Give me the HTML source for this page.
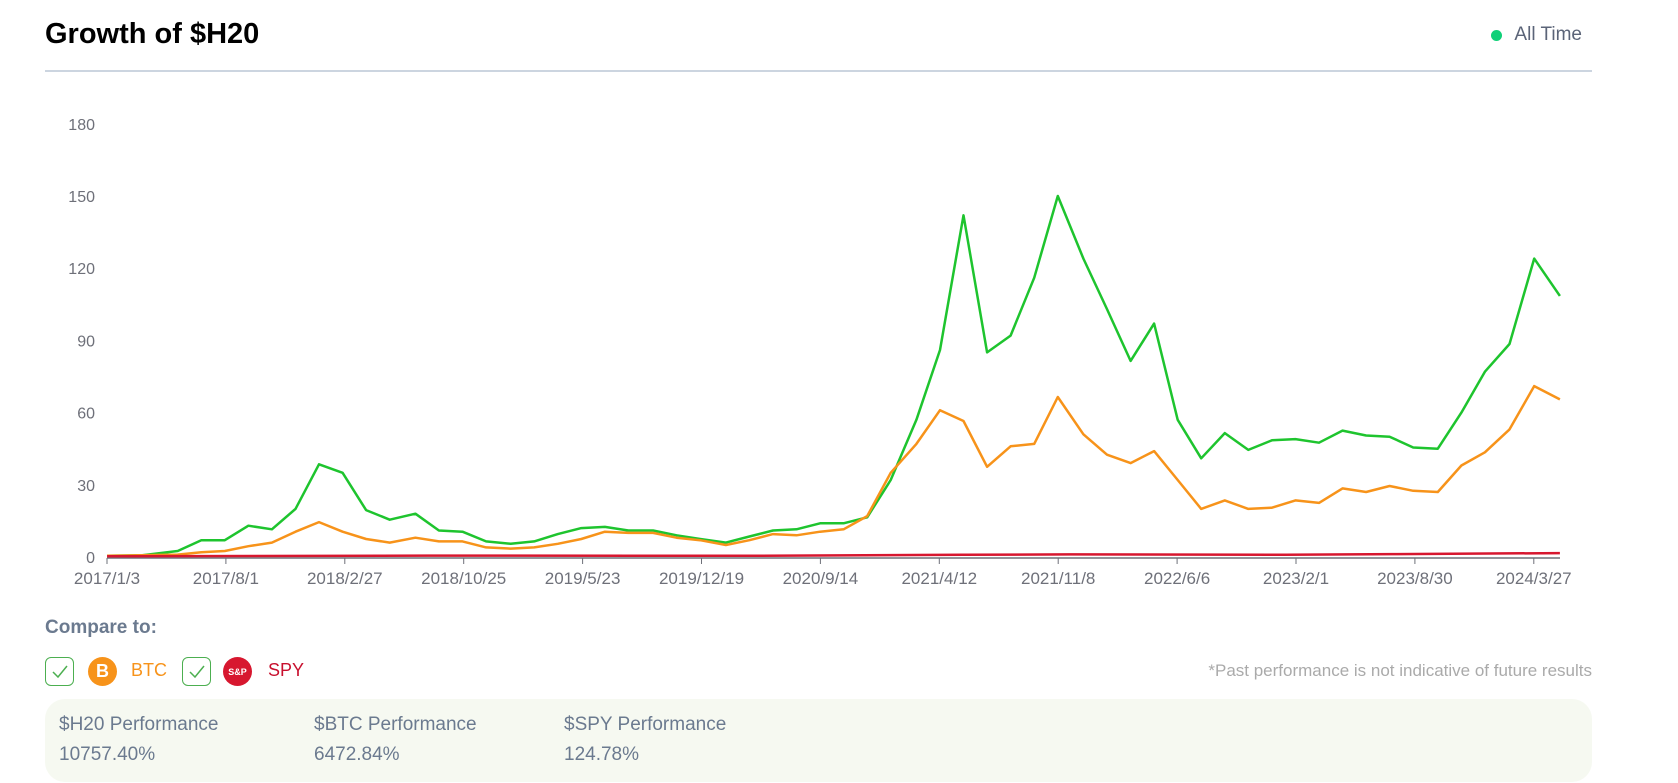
<!DOCTYPE html>
<html><head><meta charset="utf-8"><style>
body{margin:0;width:1678px;height:783px;background:#fff;font-family:"Liberation Sans",sans-serif;position:relative;overflow:hidden}
.a{position:absolute;white-space:nowrap}
</style></head><body>
<div class="a" style="left:45px;top:18px;font-size:29px;font-weight:bold;color:#000">Growth of $H20</div>
<div class="a" style="left:1491px;top:30px;width:11px;height:11px;border-radius:50%;background:#10d078"></div>
<div class="a" style="right:96px;top:24px;font-size:19px;color:#5b6478">All Time</div>
<div class="a" style="left:45px;top:70px;width:1547px;height:2px;background:#ccd5e0"></div>
<svg class="a" style="left:0;top:0" width="1678" height="783" viewBox="0 0 1678 783" id="s"></svg>
<div class="a" style="left:45px;top:617px;font-size:19px;font-weight:bold;color:#6b7a8f">Compare to:</div>
<div class="a" style="left:45px;top:657px;width:27px;height:27px;border:1px solid #4caf50;border-radius:6px"></div>
<div class="a" style="left:182px;top:657px;width:27px;height:27px;border:1px solid #4caf50;border-radius:6px"></div>
<svg class="a" style="left:45px;top:657px" width="170" height="29"><path d="M8 15 L13 20 L22 9" stroke="#4caf50" stroke-width="1.5" fill="none"/><path d="M145 15 L150 20 L159 9" stroke="#4caf50" stroke-width="1.5" fill="none"/></svg>
<div class="a" style="left:88px;top:657px;width:29px;height:29px;border-radius:50%;background:#f7931a;color:#fff;font-weight:bold;font-size:18px;text-align:center;line-height:29px">B</div>
<div class="a" style="left:131px;top:660px;font-size:18px;color:#f7931a">BTC</div>
<div class="a" style="left:223px;top:657px;width:29px;height:29px;border-radius:50%;background:#d7172f;color:#fff;font-weight:bold;font-size:9px;text-align:center;line-height:31px">S&amp;P</div>
<div class="a" style="left:268px;top:660px;font-size:18px;color:#c8102e">SPY</div>
<div class="a" style="right:86px;top:661px;font-size:17px;color:#aaa">*Past performance is not indicative of future results</div>
<div class="a" style="left:45px;top:699px;width:1547px;height:83px;border-radius:20px;background:#f6f9f1"></div>
<div class="a" style="left:59px;top:714px;font-size:19px;color:#6b7a8f">$H20 Performance</div>
<div class="a" style="left:59px;top:744px;font-size:19px;color:#6b7a8f">10757.40%</div>
<div class="a" style="left:314px;top:714px;font-size:19px;color:#6b7a8f">$BTC Performance</div>
<div class="a" style="left:314px;top:744px;font-size:19px;color:#6b7a8f">6472.84%</div>
<div class="a" style="left:564px;top:714px;font-size:19px;color:#6b7a8f">$SPY Performance</div>
<div class="a" style="left:564px;top:744px;font-size:19px;color:#6b7a8f">124.78%</div>
<script>
var S=1.0706,ns="http://www.w3.org/2000/svg",svg=document.getElementById('s');
function Y(v){return 557-v*72.2/30}
function el(t,a,txt){var e=document.createElementNS(ns,t);for(var k in a)e.setAttribute(k,a[k]);if(txt)e.textContent=txt;svg.appendChild(e);return e}
for(var i=0;i<=6;i++){el('text',{x:95,y:Y(i*30)+6,'text-anchor':'end','font-size':16,fill:'#6e7079','font-family':'Liberation Sans'},String(i*30))}
el('line',{x1:107,x2:1560,y1:558,y2:558,stroke:'#6e7079','stroke-width':1.5});
var L=["2017/1/3","2017/8/1","2018/2/27","2018/10/25","2019/5/23","2019/12/19","2020/9/14","2021/4/12","2021/11/8","2022/6/6","2023/2/1","2023/8/30","2024/3/27"];
L.forEach(function(t,i){var x=107+i*118.9;el('line',{x1:x,x2:x,y1:558,y2:564,stroke:'#6e7079'});el('text',{x:x,y:584,'text-anchor':'middle','font-size':17,fill:'#6e7079','font-family':'Liberation Sans'},t)});
var G=[[100,0.5],[133,0.7],[166,2.5],[188,7],[210,7],[232,13],[254,11.5],[276,20],[298,38.5],[320,35],[342,19.5],[364,15.5],[388,18],[410,11],[432,10.5],[454,6.5],[477,5.5],[499,6.5],[521,9.5],[543,12],[565,12.5],[587,11],[610,11],[632,9],[654,7.5],[678,6],[700,8.5],[722,11],[744,11.5],[766,14],[788,14],[810,16.5],[832,32],[856,57],[878,86],[900,142],[922,85],[944,92],[966,116],[988,150],[1012,124],[1034,103],[1056,81.5],[1078,97],[1100,57],[1122,41],[1144,51.5],[1166,44.5],[1188,48.5],[1210,49],[1232,47.5],[1254,52.5],[1276,50.5],[1298,50],[1320,45.5],[1343,45],[1365,60],[1387,77],[1410,88.5],[1433,124],[1457,108.5]];
var O=[[100,0.5],[166,1],[188,2],[210,2.5],[232,4.5],[254,6],[276,10.5],[298,14.5],[320,10.5],[342,7.5],[364,6],[388,8],[410,6.5],[432,6.5],[454,4],[477,3.5],[499,4],[521,5.5],[543,7.5],[565,10.5],[587,10],[610,10],[632,8],[654,7],[678,5],[700,7],[722,9.5],[744,9],[766,10.5],[788,11.5],[810,17],[832,35],[856,47],[878,61],[900,56.5],[922,37.5],[944,46],[966,47],[988,66.5],[1012,51],[1034,42.5],[1056,39],[1078,44],[1100,32],[1122,20],[1144,23.5],[1166,20],[1188,20.5],[1210,23.5],[1232,22.5],[1254,28.5],[1276,27],[1298,29.5],[1320,27.5],[1343,27],[1365,38],[1387,43.5],[1410,53],[1433,71],[1457,65.5]];
var R=[[100,0.3],[400,0.6],[700,0.5],[900,0.9],[1000,1.1],[1200,0.9],[1300,1.2],[1457,1.6]];
function pl(d,c){el('polyline',{points:d.map(function(p){return (p[0]*S).toFixed(1)+','+Y(p[1]).toFixed(1)}).join(' '),fill:'none',stroke:c,'stroke-width':2.5,'stroke-linejoin':'round'})}
pl(G,'#1ec42e');pl(O,'#f7931a');pl(R,'#d7172f');
</script>
</body></html>
